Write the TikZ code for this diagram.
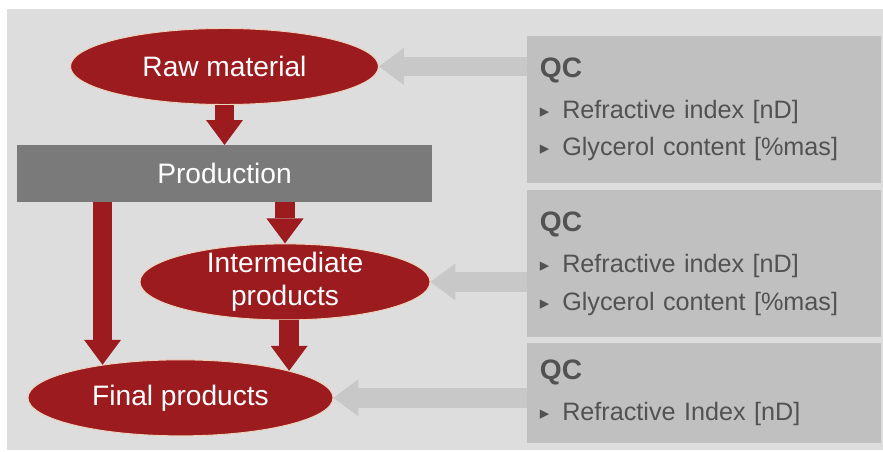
\documentclass[tikz,border=0pt]{standalone}
\usepackage{fontspec}
\setmainfont{Liberation Sans}
\newfontfamily\bulletfont{DejaVu Sans}
\usepackage{tikz}
\usetikzlibrary{shapes.geometric,arrows.meta,positioning}

\definecolor{flowRed}{RGB}{155,27,31}
\definecolor{flowRim}{RGB}{238,212,186}
\definecolor{prodGray}{RGB}{122,122,122}
\definecolor{panelGray}{RGB}{221,221,221}
\definecolor{qcGray}{RGB}{192,192,192}
\definecolor{arrowGray}{RGB}{200,200,200}
\definecolor{qcText}{RGB}{82,82,82}

\protected\def\qcfont{\fontsize{21.5}{32}\selectfont\spaceskip=10pt\relax}
\newcommand{\qctitle}[1]{{\bfseries\fontsize{24}{32}\selectfont #1}}
\newcommand{\qcitem}{{\bulletfont\fontsize{16}{16}\selectfont\raisebox{1pt}{▸}}\hspace{11pt}}

\begin{document}
\begin{tikzpicture}[
	x=0.03cm, y=-0.03cm,
	font=\fontsize{24}{28}\selectfont
	]
\tikzset{
	flow/.style = { ellipse, fill=flowRed, draw=flowRim, line width=0.8pt, text=white, inner sep=0pt, minimum height=2.28cm },
	flowLabel/.style = { text=white, align=center, inner sep=0pt },
	process/.style = { rectangle, fill=prodGray, text=white, minimum width=12.45cm, minimum height=1.71cm },
	qcbox/.style = { rectangle, fill=qcGray, text=qcText, text width=9.84cm, inner xsep=0.39cm, inner ysep=0pt, align=left, font=\qcfont },
	redArrow/.style = { line width=17pt, draw=flowRed, -{Triangle[width=31.6pt, length=21.3pt, line width=0pt]} },
	grayArrow/.style = { redArrow, draw=arrowGray }
}

	\useasboundingbox (0,0) rectangle (883,452);
	\fill [panelGray] (7,9) rectangle (883,450);

	% left column
	\node (rawMaterial) [flow, minimum width=9.24cm] at (224.5,66.5) {Raw material};
	\node (production) [process, below=1.2cm of rawMaterial] {Production};
	\node (intermediate) [flow, minimum width=8.7cm, below=1.23cm of production, xshift=1.815cm, label={[flowLabel]center:Intermediate\\products}] {};
	\node (finalProducts) [flow, minimum width=9.15cm, below=1.17cm of intermediate, xshift=-3.135cm] {Final products};

	% right column
	\node (qcRaw) [qcbox, minimum height=4.41cm] at (704,109.5) {\qctitle{QC}\\[3pt] \qcitem Refractive index [nD]\\ \qcitem Glycerol content [\%mas]};
	\node (qcInter) [qcbox, minimum height=4.41cm, below=0.21cm of qcRaw] {\qctitle{QC}\\[3pt] \qcitem Refractive index [nD]\\ \qcitem Glycerol content [\%mas]};
	\node (qcFinal) [qcbox, minimum height=3cm, below=0.15cm of qcInter] {\qctitle{QC}\\[3pt] \qcitem Refractive Index [nD]};

	% paths
	\draw [redArrow] (rawMaterial.south) -- (production.north);
	\draw [redArrow] (finalProducts.157.5 |- production.south) -- (finalProducts.157.5);
	\draw [redArrow] (intermediate.north |- production.south) -- (intermediate.north);
	\draw [redArrow] (finalProducts.14 |- intermediate.south) -- (finalProducts.14);

	\draw [grayArrow] (qcRaw.west |- rawMaterial.east) -- (rawMaterial.east);
	\draw [grayArrow] (qcInter.west |- intermediate.east) -- (intermediate.east);
	\draw [grayArrow] (qcFinal.west |- finalProducts.east) -- (finalProducts.east);
\end{tikzpicture}
\end{document}
